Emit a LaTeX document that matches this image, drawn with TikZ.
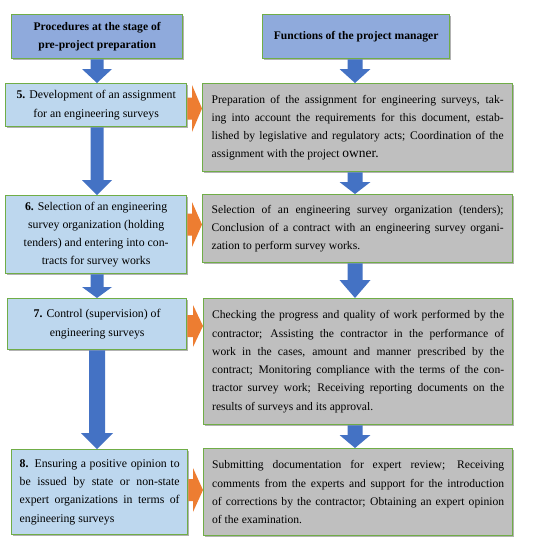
\documentclass[tikz,border=0pt]{standalone}
\usepackage{fontspec}
\setmainfont{Liberation Serif}
\usetikzlibrary{calc,shadows}
\definecolor{hblue}{HTML}{8FAADC}
\definecolor{lblue}{HTML}{BDD7EE}
\definecolor{gry}{HTML}{BFBFBF}
\definecolor{grn}{HTML}{70AD47}
\definecolor{ablue}{HTML}{4472C4}
\definecolor{orng}{HTML}{ED7D31}
\newcommand\jr[1]{\makebox[292pt][s]{#1}}
\newcommand\je[1]{\makebox[160pt][s]{#1}}
\newcommand\vblock[6]{%
 \fill[barrow] let \p1=(#1), \p2=(#2) in
 (#3pt-#4pt,\y1) -- (#3pt+#4pt,\y1) -- (#3pt+#4pt,\y2+#6pt) -- (#3pt+#5pt,\y2+#6pt)
 -- (#3pt,\y2) -- (#3pt-#5pt,\y2+#6pt) -- (#3pt-#4pt,\y2+#6pt) -- cycle;}
\newcommand\hblock[6]{%
 \fill[oarrow] let \p1=(#1), \p2=(#2) in
 (\x1,-#3pt+#4pt) -- (\x2-#6pt,-#3pt+#4pt) -- (\x2-#6pt,-#3pt+#5pt) -- (\x2,-#3pt)
 -- (\x2-#6pt,-#3pt-#5pt) -- (\x2-#6pt,-#3pt-#4pt) -- (\x1,-#3pt-#4pt) -- cycle;}
\begin{document}
\begin{tikzpicture}[x=1pt,y=-1pt,
 box/.style={draw=grn, line width=1.3pt, anchor=north west, inner ysep=0pt,
   drop shadow={shadow xshift=1.6pt,shadow yshift=-1.6pt,fill=black,opacity=0.3}},
 hdr/.style={box, fill=hblue, font=\fontsize{11.6}{18}\selectfont\bfseries, align=center},
 lbox/.style={box, fill=lblue, font=\fontsize{11.8}{18.3}\selectfont, align=center},
 rbox/.style={box, fill=gry, font=\fontsize{11.6}{18.3}\selectfont, align=left},
 barrow/.style={fill=ablue},
 oarrow/.style={fill=orng}]
\useasboundingbox[fill=white] (0,0) rectangle (541,550);

\node[hdr, minimum width=171pt, minimum height=44pt] (hL) at (11,14)
  {Procedures at the stage of\\pre-project preparation};
\node[hdr, minimum width=187pt, minimum height=44pt] (hR) at (262,14)
  {Functions of the project manager};

\node[lbox, minimum width=181pt, minimum height=43pt] (b5) at (5,83)
  {\textbf{5.} Development of an assignment\\for an engineering surveys};
\node[lbox, minimum width=181pt, minimum height=78pt] (b6) at (5,195)
  {\textbf{6.} Selection of an engineering\\survey organization (holding\\tenders) and entering into con-\\tracts for survey works};
\node[lbox, minimum width=179pt, minimum height=51pt] (b7) at (7,298)
  {\textbf{7.} Control (supervision) of\\engineering surveys};
\node[lbox, align=left, minimum width=176pt, minimum height=85pt] (b8) at (11,449)
  {\je{\textbf{8.} Ensuring a positive opinion to}\\
   \je{be issued by state or non-state}\\
   \je{expert organizations in terms of}\\
   engineering surveys};

\node[rbox, minimum width=310pt, minimum height=88pt] (r1) at (202,83)
  {\jr{Preparation of the assignment for engineering surveys, tak-}\\
   \jr{ing into account the requirements for this document, estab-}\\
   \jr{lished by legislative and regulatory acts; Coordination of the}\\
   assignment with the project {\fontsize{13.5}{18.3}\selectfont owner.}};
\node[rbox, minimum width=310pt, minimum height=68pt] (r2) at (202,194)
  {\jr{Selection of an engineering survey organization (tenders);}\\
   \jr{Conclusion of a contract with an engineering survey organi-}\\
   zation to perform survey works.};
\node[rbox, minimum width=309pt, minimum height=126pt] (r3) at (203,298)
  {\jr{Checking the progress and quality of work performed by the}\\
   \jr{contractor; Assisting the contractor in the performance of}\\
   \jr{work in the cases, amount and manner prescribed by the}\\
   \jr{contract; Monitoring compliance with the terms of the con-}\\
   \jr{tractor survey work; Receiving reporting documents on the}\\
   results of surveys and its approval.};
\node[rbox, minimum width=309pt, minimum height=87pt] (r4) at (203,448)
  {\jr{Submitting documentation for expert review; Receiving}\\
   \jr{comments from the experts and support for the introduction}\\
   \jr{of corrections by the contractor; Obtaining an expert opinion}\\
   of the examination.};

% blue down arrows
\vblock{hL.south}{b5.north}{97}{6.5}{15}{14}
\vblock{b5.south}{b6.north}{97}{6.5}{15}{15}
\vblock{b6.south}{b7.north}{97}{6.5}{15}{11}
\vblock{b7.south}{b8.north}{97}{8}{16}{16}
\vblock{hR.south}{r1.north}{355}{7.5}{15.5}{14}
\vblock{r1.south}{r2.north}{355}{7.5}{15.5}{12}
\vblock{r2.south}{r3.north}{355}{7.5}{15.5}{18}
\vblock{r3.south}{r4.north}{355}{7.5}{15.5}{13}

% orange right arrows
\hblock{b5.east}{r1.west}{108.5}{11}{23.5}{10}
\hblock{b6.east}{r2.west}{224.5}{11}{22.5}{10}
\hblock{b7.east}{r3.west}{326}{11}{21}{10}
\hblock{b8.east}{r4.west}{490}{11}{22}{10}
\end{tikzpicture}
\end{document}
